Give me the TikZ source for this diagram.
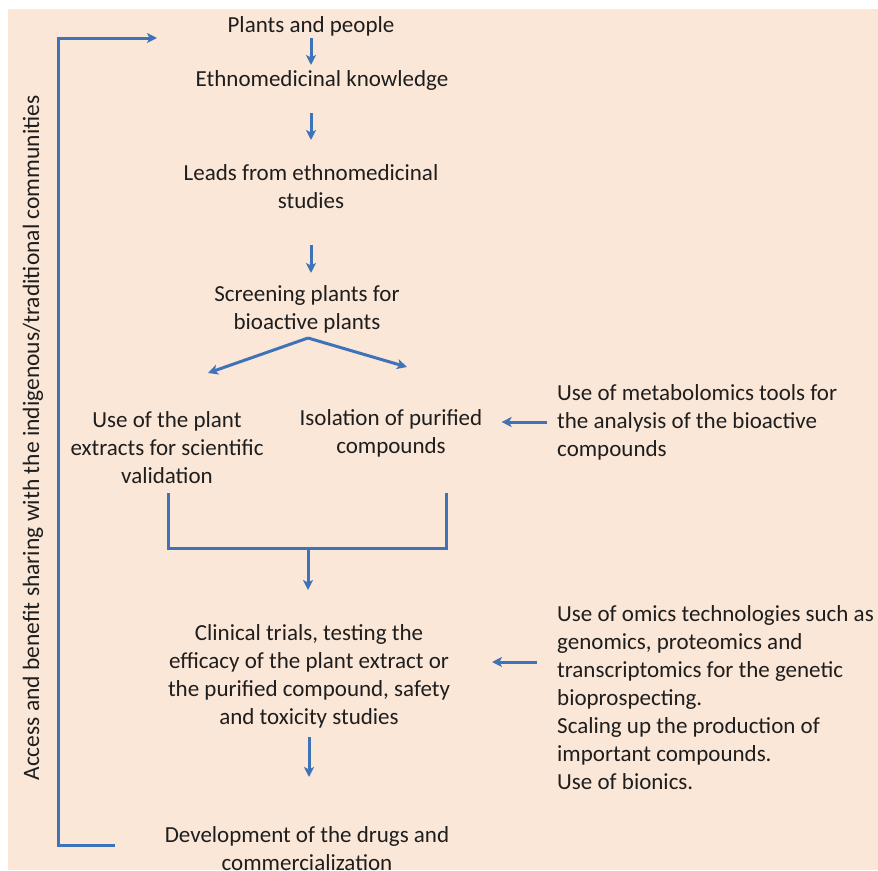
\documentclass[tikz,border=0pt]{standalone}
\usepackage{fontspec}
\setmainfont{Carlito}
\usetikzlibrary{arrows.meta,calc}
\definecolor{peach}{HTML}{FBE7D8}
\definecolor{flowblue}{HTML}{3F73B9}
\definecolor{ink}{HTML}{1E1E1E}
\begin{document}
\begin{tikzpicture}[x=1pt,y=-1pt,
  txt/.style={inner sep=0pt,text=ink,align=center,font=\fontsize{23}{28}\selectfont},
  side/.style={txt,align=left,anchor=west},
  link/.style={draw=flowblue,line width=3pt},
  arr/.style={link,-{Stealth[length=10pt,width=10pt,inset=2.5pt]}}]
  % canvas
  \useasboundingbox (0,0) rectangle (878,870);
  \fill[white] (0,0) rectangle (878,870);
  \fill[peach] (8,9) rectangle (878,870);

  % main column
  \node[txt] (pp)   at (311,26)  {Plants and people};
  \node[txt] (ek)   at (322,80)  {Ethnomedicinal knowledge};
  \node[txt] (lead) at (311,187) {Leads from ethnomedicinal\\studies};
  \node[txt] (scr)  at (307,309) {Screening plants for\\bioactive plants};
  \node[txt] (ext)  at (167,448) {Use of the plant\\extracts for scientific\\validation};
  \node[txt] (iso)  at (391,433) {Isolation of purified\\compounds};
  \node[txt] (clin) at (309,676) {Clinical trials, testing the\\efficacy of the plant extract or\\the purified compound, safety\\and toxicity studies};
  \node[txt] (dev)  at (307,849) {Development of the drugs and\\commercialization};

  % side notes
  \node[side] (met) at (557,422) {Use of metabolomics tools for\\the analysis of the bioactive\\compounds};
  \node[side] (omx) at (557,698) {Use of omics technologies such as\\genomics, proteomics and\\transcriptomics for the genetic\\bioprospecting.\\Scaling up the production of\\important compounds.\\Use of bionics.};

  % vertical caption
  \node[txt,rotate=90,font=\fontsize{23.5}{28}\selectfont] (abs) at (33,438) {Access and benefit sharing with the indigenous/traditional communities};

  % connector end points
  \coordinate (apex) at (308,338);
  \coordinate (toExt) at (208,373);
  \coordinate (toIso) at (407,367);
  \coordinate (brL) at (168,493);
  \coordinate (brR) at (446,493);
  \coordinate (join) at (308,548);
  \coordinate (omA) at (537,662);
  \coordinate (omB) at (492,662);
  \coordinate (loopS) at (115,845);
  \coordinate (loopE) at (157,38);
  \coordinate (rail) at (58,440);

  % straight chain (centre to centre, trimmed to the gaps)
  \draw[arr,shorten <=12pt,shorten >=15pt] (pp.center) -- (pp.center |- ek.center);
  \draw[arr,shorten <=33pt,shorten >=47pt] (lead.center |- ek.center) -- (lead.center);
  \draw[arr,shorten <=58pt,shorten >=36pt] (lead.center) -- (lead.center |- scr.center);

  % branching
  \draw[arr] (apex) -- (toExt);
  \draw[arr] (apex) -- (toIso);

  % metabolomics input
  \draw[arr,shorten <=10pt,shorten >=19pt] (met.west) -- (met.west -| iso.east);

  % merging bracket
  \draw[link] (brL) |- (join) -| (brR);
  \draw[arr,shorten >=86pt] (join) -- (join |- clin.center);

  % omics input
  \draw[arr] (omA) -- (omB);

  % to development
  \draw[arr,shorten <=61pt,shorten >=72pt] (clin.center) -- (clin.center |- dev.center);

  % feedback loop
  \draw[arr] (loopS) -| (rail |- loopE) -- (loopE);
\end{tikzpicture}
\end{document}
